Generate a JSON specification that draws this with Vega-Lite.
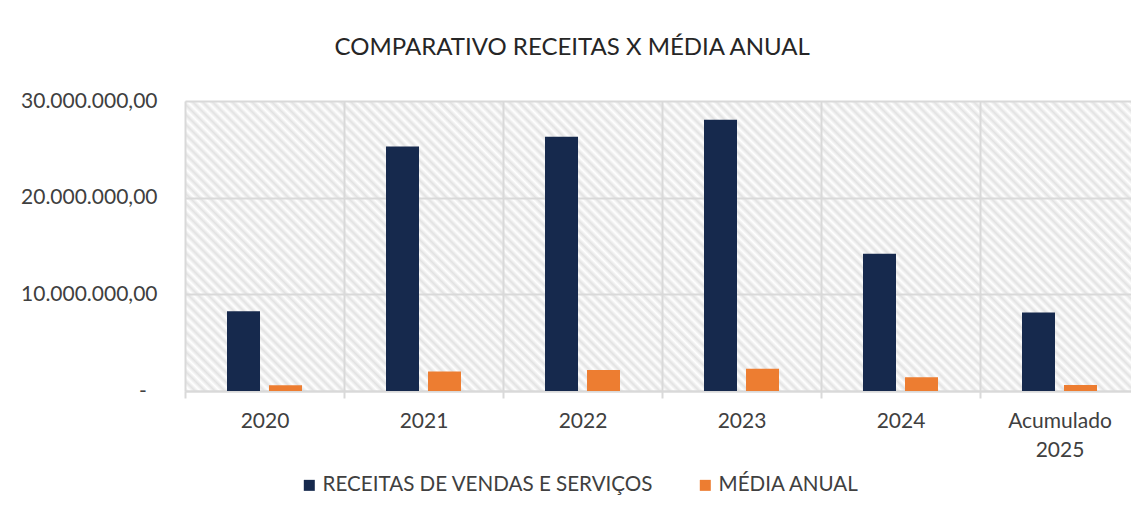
{
  "$schema": "https://vega.github.io/schema/vega-lite/v6.json",
  "width": 946,
  "height": 290,
  "autosize": {"type": "none"},
  "padding": {"left": 185, "top": 101, "right": 0, "bottom": 126},
  "background": "white",
  "config": {
    "locale": {"number": {"decimal": ",", "thousands": ".", "grouping": [3], "currency": ["R$ ", ""]}},
    "font": "Lato",
    "view": {"stroke": null}
  },
  "view": {
    "stroke": null,
    "fill": {
      "gradient": "linear", "x1": 1, "y1": 0, "x2": -0.194, "y2": 0.3661,
      "stops": [
        {"offset": 0, "color": "#e2e2e2"}, {"offset": 0.004, "color": "#ffffff"}, {"offset": 0.008, "color": "#e2e2e2"}, {"offset": 0.012, "color": "#ffffff"}, {"offset": 0.016, "color": "#e2e2e2"}, {"offset": 0.02, "color": "#ffffff"}, {"offset": 0.024, "color": "#e2e2e2"}, {"offset": 0.028, "color": "#ffffff"}, {"offset": 0.032, "color": "#e2e2e2"}, {"offset": 0.036, "color": "#ffffff"},
        {"offset": 0.04, "color": "#e2e2e2"}, {"offset": 0.044, "color": "#ffffff"}, {"offset": 0.048, "color": "#e2e2e2"}, {"offset": 0.052, "color": "#ffffff"}, {"offset": 0.056, "color": "#e2e2e2"}, {"offset": 0.06, "color": "#ffffff"}, {"offset": 0.064, "color": "#e2e2e2"}, {"offset": 0.068, "color": "#ffffff"}, {"offset": 0.072, "color": "#e2e2e2"}, {"offset": 0.076, "color": "#ffffff"},
        {"offset": 0.08, "color": "#e2e2e2"}, {"offset": 0.084, "color": "#ffffff"}, {"offset": 0.088, "color": "#e2e2e2"}, {"offset": 0.092, "color": "#ffffff"}, {"offset": 0.096, "color": "#e2e2e2"}, {"offset": 0.1, "color": "#ffffff"}, {"offset": 0.104, "color": "#e2e2e2"}, {"offset": 0.108, "color": "#ffffff"}, {"offset": 0.112, "color": "#e2e2e2"}, {"offset": 0.116, "color": "#ffffff"},
        {"offset": 0.12, "color": "#e2e2e2"}, {"offset": 0.124, "color": "#ffffff"}, {"offset": 0.128, "color": "#e2e2e2"}, {"offset": 0.132, "color": "#ffffff"}, {"offset": 0.136, "color": "#e2e2e2"}, {"offset": 0.14, "color": "#ffffff"}, {"offset": 0.144, "color": "#e2e2e2"}, {"offset": 0.148, "color": "#ffffff"}, {"offset": 0.152, "color": "#e2e2e2"}, {"offset": 0.156, "color": "#ffffff"},
        {"offset": 0.16, "color": "#e2e2e2"}, {"offset": 0.164, "color": "#ffffff"}, {"offset": 0.168, "color": "#e2e2e2"}, {"offset": 0.172, "color": "#ffffff"}, {"offset": 0.176, "color": "#e2e2e2"}, {"offset": 0.18, "color": "#ffffff"}, {"offset": 0.184, "color": "#e2e2e2"}, {"offset": 0.188, "color": "#ffffff"}, {"offset": 0.192, "color": "#e2e2e2"}, {"offset": 0.196, "color": "#ffffff"},
        {"offset": 0.2, "color": "#e2e2e2"}, {"offset": 0.204, "color": "#ffffff"}, {"offset": 0.208, "color": "#e2e2e2"}, {"offset": 0.212, "color": "#ffffff"}, {"offset": 0.216, "color": "#e2e2e2"}, {"offset": 0.22, "color": "#ffffff"}, {"offset": 0.224, "color": "#e2e2e2"}, {"offset": 0.228, "color": "#ffffff"}, {"offset": 0.232, "color": "#e2e2e2"}, {"offset": 0.236, "color": "#ffffff"},
        {"offset": 0.24, "color": "#e2e2e2"}, {"offset": 0.244, "color": "#ffffff"}, {"offset": 0.248, "color": "#e2e2e2"}, {"offset": 0.252, "color": "#ffffff"}, {"offset": 0.256, "color": "#e2e2e2"}, {"offset": 0.26, "color": "#ffffff"}, {"offset": 0.264, "color": "#e2e2e2"}, {"offset": 0.268, "color": "#ffffff"}, {"offset": 0.272, "color": "#e2e2e2"}, {"offset": 0.276, "color": "#ffffff"},
        {"offset": 0.28, "color": "#e2e2e2"}, {"offset": 0.284, "color": "#ffffff"}, {"offset": 0.288, "color": "#e2e2e2"}, {"offset": 0.292, "color": "#ffffff"}, {"offset": 0.296, "color": "#e2e2e2"}, {"offset": 0.3, "color": "#ffffff"}, {"offset": 0.304, "color": "#e2e2e2"}, {"offset": 0.308, "color": "#ffffff"}, {"offset": 0.312, "color": "#e2e2e2"}, {"offset": 0.316, "color": "#ffffff"},
        {"offset": 0.32, "color": "#e2e2e2"}, {"offset": 0.324, "color": "#ffffff"}, {"offset": 0.328, "color": "#e2e2e2"}, {"offset": 0.332, "color": "#ffffff"}, {"offset": 0.336, "color": "#e2e2e2"}, {"offset": 0.34, "color": "#ffffff"}, {"offset": 0.344, "color": "#e2e2e2"}, {"offset": 0.348, "color": "#ffffff"}, {"offset": 0.352, "color": "#e2e2e2"}, {"offset": 0.356, "color": "#ffffff"},
        {"offset": 0.36, "color": "#e2e2e2"}, {"offset": 0.364, "color": "#ffffff"}, {"offset": 0.368, "color": "#e2e2e2"}, {"offset": 0.372, "color": "#ffffff"}, {"offset": 0.376, "color": "#e2e2e2"}, {"offset": 0.38, "color": "#ffffff"}, {"offset": 0.384, "color": "#e2e2e2"}, {"offset": 0.388, "color": "#ffffff"}, {"offset": 0.392, "color": "#e2e2e2"}, {"offset": 0.396, "color": "#ffffff"},
        {"offset": 0.4, "color": "#e2e2e2"}, {"offset": 0.404, "color": "#ffffff"}, {"offset": 0.408, "color": "#e2e2e2"}, {"offset": 0.412, "color": "#ffffff"}, {"offset": 0.416, "color": "#e2e2e2"}, {"offset": 0.42, "color": "#ffffff"}, {"offset": 0.424, "color": "#e2e2e2"}, {"offset": 0.428, "color": "#ffffff"}, {"offset": 0.432, "color": "#e2e2e2"}, {"offset": 0.436, "color": "#ffffff"},
        {"offset": 0.44, "color": "#e2e2e2"}, {"offset": 0.444, "color": "#ffffff"}, {"offset": 0.448, "color": "#e2e2e2"}, {"offset": 0.452, "color": "#ffffff"}, {"offset": 0.456, "color": "#e2e2e2"}, {"offset": 0.46, "color": "#ffffff"}, {"offset": 0.464, "color": "#e2e2e2"}, {"offset": 0.468, "color": "#ffffff"}, {"offset": 0.472, "color": "#e2e2e2"}, {"offset": 0.476, "color": "#ffffff"},
        {"offset": 0.48, "color": "#e2e2e2"}, {"offset": 0.484, "color": "#ffffff"}, {"offset": 0.488, "color": "#e2e2e2"}, {"offset": 0.492, "color": "#ffffff"}, {"offset": 0.496, "color": "#e2e2e2"}, {"offset": 0.5, "color": "#ffffff"}, {"offset": 0.504, "color": "#e2e2e2"}, {"offset": 0.508, "color": "#ffffff"}, {"offset": 0.512, "color": "#e2e2e2"}, {"offset": 0.516, "color": "#ffffff"},
        {"offset": 0.52, "color": "#e2e2e2"}, {"offset": 0.524, "color": "#ffffff"}, {"offset": 0.528, "color": "#e2e2e2"}, {"offset": 0.532, "color": "#ffffff"}, {"offset": 0.536, "color": "#e2e2e2"}, {"offset": 0.54, "color": "#ffffff"}, {"offset": 0.544, "color": "#e2e2e2"}, {"offset": 0.548, "color": "#ffffff"}, {"offset": 0.552, "color": "#e2e2e2"}, {"offset": 0.556, "color": "#ffffff"},
        {"offset": 0.56, "color": "#e2e2e2"}, {"offset": 0.564, "color": "#ffffff"}, {"offset": 0.568, "color": "#e2e2e2"}, {"offset": 0.572, "color": "#ffffff"}, {"offset": 0.576, "color": "#e2e2e2"}, {"offset": 0.58, "color": "#ffffff"}, {"offset": 0.584, "color": "#e2e2e2"}, {"offset": 0.588, "color": "#ffffff"}, {"offset": 0.592, "color": "#e2e2e2"}, {"offset": 0.596, "color": "#ffffff"},
        {"offset": 0.6, "color": "#e2e2e2"}, {"offset": 0.604, "color": "#ffffff"}, {"offset": 0.608, "color": "#e2e2e2"}, {"offset": 0.612, "color": "#ffffff"}, {"offset": 0.616, "color": "#e2e2e2"}, {"offset": 0.62, "color": "#ffffff"}, {"offset": 0.624, "color": "#e2e2e2"}, {"offset": 0.628, "color": "#ffffff"}, {"offset": 0.632, "color": "#e2e2e2"}, {"offset": 0.636, "color": "#ffffff"},
        {"offset": 0.64, "color": "#e2e2e2"}, {"offset": 0.644, "color": "#ffffff"}, {"offset": 0.648, "color": "#e2e2e2"}, {"offset": 0.652, "color": "#ffffff"}, {"offset": 0.656, "color": "#e2e2e2"}, {"offset": 0.66, "color": "#ffffff"}, {"offset": 0.664, "color": "#e2e2e2"}, {"offset": 0.668, "color": "#ffffff"}, {"offset": 0.672, "color": "#e2e2e2"}, {"offset": 0.676, "color": "#ffffff"},
        {"offset": 0.68, "color": "#e2e2e2"}, {"offset": 0.684, "color": "#ffffff"}, {"offset": 0.688, "color": "#e2e2e2"}, {"offset": 0.692, "color": "#ffffff"}, {"offset": 0.696, "color": "#e2e2e2"}, {"offset": 0.7, "color": "#ffffff"}, {"offset": 0.704, "color": "#e2e2e2"}, {"offset": 0.708, "color": "#ffffff"}, {"offset": 0.712, "color": "#e2e2e2"}, {"offset": 0.716, "color": "#ffffff"},
        {"offset": 0.72, "color": "#e2e2e2"}, {"offset": 0.724, "color": "#ffffff"}, {"offset": 0.728, "color": "#e2e2e2"}, {"offset": 0.732, "color": "#ffffff"}, {"offset": 0.736, "color": "#e2e2e2"}, {"offset": 0.74, "color": "#ffffff"}, {"offset": 0.744, "color": "#e2e2e2"}, {"offset": 0.748, "color": "#ffffff"}, {"offset": 0.752, "color": "#e2e2e2"}, {"offset": 0.756, "color": "#ffffff"},
        {"offset": 0.76, "color": "#e2e2e2"}, {"offset": 0.764, "color": "#ffffff"}, {"offset": 0.768, "color": "#e2e2e2"}, {"offset": 0.772, "color": "#ffffff"}, {"offset": 0.776, "color": "#e2e2e2"}, {"offset": 0.78, "color": "#ffffff"}, {"offset": 0.784, "color": "#e2e2e2"}, {"offset": 0.788, "color": "#ffffff"}, {"offset": 0.792, "color": "#e2e2e2"}, {"offset": 0.796, "color": "#ffffff"},
        {"offset": 0.8, "color": "#e2e2e2"}, {"offset": 0.804, "color": "#ffffff"}, {"offset": 0.808, "color": "#e2e2e2"}, {"offset": 0.812, "color": "#ffffff"}, {"offset": 0.816, "color": "#e2e2e2"}, {"offset": 0.82, "color": "#ffffff"}, {"offset": 0.824, "color": "#e2e2e2"}, {"offset": 0.828, "color": "#ffffff"}, {"offset": 0.832, "color": "#e2e2e2"}, {"offset": 0.836, "color": "#ffffff"},
        {"offset": 0.84, "color": "#e2e2e2"}, {"offset": 0.844, "color": "#ffffff"}, {"offset": 0.848, "color": "#e2e2e2"}, {"offset": 0.852, "color": "#ffffff"}, {"offset": 0.856, "color": "#e2e2e2"}, {"offset": 0.86, "color": "#ffffff"}, {"offset": 0.864, "color": "#e2e2e2"}, {"offset": 0.868, "color": "#ffffff"}, {"offset": 0.872, "color": "#e2e2e2"}, {"offset": 0.876, "color": "#ffffff"},
        {"offset": 0.88, "color": "#e2e2e2"}, {"offset": 0.884, "color": "#ffffff"}, {"offset": 0.888, "color": "#e2e2e2"}, {"offset": 0.892, "color": "#ffffff"}, {"offset": 0.896, "color": "#e2e2e2"}, {"offset": 0.9, "color": "#ffffff"}, {"offset": 0.904, "color": "#e2e2e2"}, {"offset": 0.908, "color": "#ffffff"}, {"offset": 0.912, "color": "#e2e2e2"}, {"offset": 0.916, "color": "#ffffff"},
        {"offset": 0.92, "color": "#e2e2e2"}, {"offset": 0.924, "color": "#ffffff"}, {"offset": 0.928, "color": "#e2e2e2"}, {"offset": 0.932, "color": "#ffffff"}, {"offset": 0.936, "color": "#e2e2e2"}, {"offset": 0.94, "color": "#ffffff"}, {"offset": 0.944, "color": "#e2e2e2"}, {"offset": 0.948, "color": "#ffffff"}, {"offset": 0.952, "color": "#e2e2e2"}, {"offset": 0.956, "color": "#ffffff"},
        {"offset": 0.96, "color": "#e2e2e2"}, {"offset": 0.964, "color": "#ffffff"}, {"offset": 0.968, "color": "#e2e2e2"}, {"offset": 0.972, "color": "#ffffff"}, {"offset": 0.976, "color": "#e2e2e2"}, {"offset": 0.98, "color": "#ffffff"}, {"offset": 0.984, "color": "#e2e2e2"}, {"offset": 0.988, "color": "#ffffff"}, {"offset": 0.992, "color": "#e2e2e2"}, {"offset": 0.996, "color": "#ffffff"},
        {"offset": 1, "color": "#e2e2e2"}
      ]
    }
  },
  "title": {
    "text": "COMPARATIVO RECEITAS X MÉDIA ANUAL",
    "frame": "bounds",
    "anchor": "middle",
    "fontSize": 24,
    "fontWeight": "normal",
    "color": "#262626",
    "offset": 30,
    "dx": -8
  },
  "data": {
    "values": [
      {"ano": "2020", "serie": "RECEITAS DE VENDAS E SERVIÇOS", "valor": 8250000},
      {"ano": "2020", "serie": "MÉDIA ANUAL", "valor": 590000},
      {"ano": "2021", "serie": "RECEITAS DE VENDAS E SERVIÇOS", "valor": 25290000},
      {"ano": "2021", "serie": "MÉDIA ANUAL", "valor": 2030000},
      {"ano": "2022", "serie": "RECEITAS DE VENDAS E SERVIÇOS", "valor": 26290000},
      {"ano": "2022", "serie": "MÉDIA ANUAL", "valor": 2160000},
      {"ano": "2023", "serie": "RECEITAS DE VENDAS E SERVIÇOS", "valor": 28070000},
      {"ano": "2023", "serie": "MÉDIA ANUAL", "valor": 2300000},
      {"ano": "2024", "serie": "RECEITAS DE VENDAS E SERVIÇOS", "valor": 14200000},
      {"ano": "2024", "serie": "MÉDIA ANUAL", "valor": 1410000},
      {"ano": "Acumulado 2025", "serie": "RECEITAS DE VENDAS E SERVIÇOS", "valor": 8110000},
      {"ano": "Acumulado 2025", "serie": "MÉDIA ANUAL", "valor": 620000}
    ]
  },
  "mark": {"type": "bar"},
  "encoding": {
    "x": {
      "field": "ano",
      "type": "nominal",
      "sort": ["2020", "2021", "2022", "2023", "2024", "Acumulado 2025"],
      "scale": {"range": [0, 954], "paddingInner": 0, "paddingOuter": 0},
      "axis": {
        "title": null,
        "labelAngle": 0,
        "labelFontSize": 21,
        "labelColor": "#404040",
        "labelPadding": 12,
        "labelLineHeight": 29,
        "labelExpr": "datum.value == 'Acumulado 2025' ? ['Acumulado', '2025'] : datum.label",
        "domainColor": "#d9d9d9",
        "domainWidth": 2,
        "ticks": true,
        "tickBand": "extent",
        "tickSize": 7,
        "tickColor": "#d9d9d9",
        "tickWidth": 2,
        "grid": true,
        "gridColor": "#d9d9d9",
        "gridWidth": 2
      }
    },
    "xOffset": {
      "field": "serie",
      "sort": ["RECEITAS DE VENDAS E SERVIÇOS", "MÉDIA ANUAL"],
      "scale": {"paddingInner": 0.214, "paddingOuter": 1.0}
    },
    "y": {
      "field": "valor",
      "type": "quantitative",
      "scale": {"domain": [0, 30000000]},
      "axis": {
        "title": null,
        "values": [0, 10000000, 20000000, 30000000],
        "format": ",.2f",
        "labelExpr": "datum.value == 0 ? '-\u00a0\u00a0\u200b' : datum.label",
        "labelFontSize": 21,
        "labelColor": "#404040",
        "labelPadding": 28,
        "domain": false,
        "ticks": false,
        "grid": true,
        "gridColor": "#d9d9d9",
        "gridWidth": 2
      }
    },
    "color": {
      "field": "serie",
      "type": "nominal",
      "sort": ["RECEITAS DE VENDAS E SERVIÇOS", "MÉDIA ANUAL"],
      "scale": {"domain": ["RECEITAS DE VENDAS E SERVIÇOS", "MÉDIA ANUAL"], "range": ["#16294d", "#ed7d31"]},
      "legend": {
        "title": null,
        "orient": "none",
        "legendX": 114,
        "legendY": 374,
        "direction": "horizontal",
        "padding": 0,
        "symbolType": "square",
        "symbolSize": 121,
        "symbolStrokeWidth": 0,
        "labelFontSize": 20.6,
        "labelLimit": 0,
        "labelColor": "#404040",
        "labelOffset": 3,
        "columnPadding": 41
      }
    }
  }
}
